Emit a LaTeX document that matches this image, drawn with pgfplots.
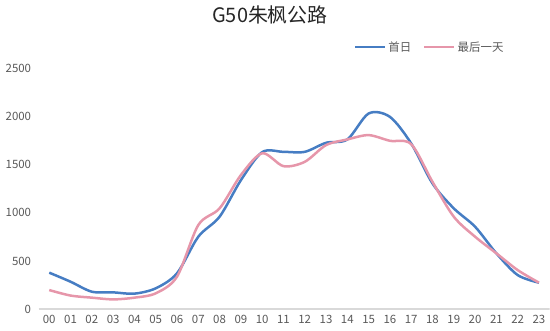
\documentclass[border=0pt]{standalone}
\usepackage{fontspec}
\setmainfont{Noto Sans CJK SC}
\usepackage{pgfplots}
\pgfplotsset{compat=1.18}
\usetikzlibrary{calc}
\definecolor{cblue}{RGB}{70,125,195}
\definecolor{cpink}{RGB}{230,150,170}
\definecolor{tickgray}{RGB}{89,89,89}
\definecolor{axgray}{RGB}{217,217,217}
\begin{document}
\begin{tikzpicture}
\begin{axis}[
  scale only axis, width=511bp, height=240.3bp,
  xmin=-0.5, xmax=23.5, ymin=0, ymax=2500,
  axis line style={draw=none},
  tick style={draw=none},
  xtick={0,...,23},
  xticklabels={00,01,02,03,04,05,06,07,08,09,10,11,12,13,14,15,16,17,18,19,20,21,22,23},
  ytick={0,500,1000,1500,2000,2500},
  /pgf/number format/assume math mode=true,
  /pgf/number format/1000 sep={},
  ticklabel style={font=\fontsize{11.5}{13}\selectfont, text=tickgray},
  yticklabel style={xshift=-4bp},
  xticklabel style={yshift=-3bp},
  legend style={draw=none, fill=none, at={(axis description cs:0.92,1.09)}, anchor=east,
    font=\fontsize{11.5}{13}\selectfont, text=tickgray, /tikz/every even column/.append style={column sep=10bp}},
  legend columns=2,
  legend image code/.code={\draw[#1, line width=2.5bp] (0bp,0bp) -- (30bp,0bp);},
]
\draw[axgray, line width=1.3bp] (rel axis cs:0,0) -- (rel axis cs:1,0);
\addplot[cblue, line width=2.5bp, smooth] coordinates {
(0,378) (1,284) (2,180) (3,173) (4,160) (5,215) (6,371) (7,752) (8,960) (9,1340)
(10,1632) (11,1635) (12,1635) (13,1729) (14,1764) (15,2034) (16,1999) (17,1722)
(18,1306) (19,1047) (20,856) (21,579) (22,353) (23,274)};
\addlegendentry{首日}
\addplot[cpink, line width=2.5bp, smooth] coordinates {
(0,197) (1,140) (2,118) (3,100) (4,118) (5,163) (6,336) (7,873) (8,1047) (9,1393)
(10,1620) (11,1486) (12,1531) (13,1705) (14,1764) (15,1809) (16,1750) (17,1715)
(18,1323) (19,960) (20,752) (21,579) (22,405) (23,274)};
\addlegendentry{最后一天}
\coordinate (ll) at (rel axis cs:0,0);
\coordinate (ur) at (rel axis cs:1,1);
\end{axis}
\node[font=\fontsize{20}{22}\selectfont, text=black!85] at ($(ll)+(231.4bp,294bp)$) {G50朱枫公路};
\pgfresetboundingbox
\path ($(ll)+(-38.6bp,-22bp)$) rectangle ($(ur)+(0.4bp,68.7bp)$);
\end{tikzpicture}
\end{document}
